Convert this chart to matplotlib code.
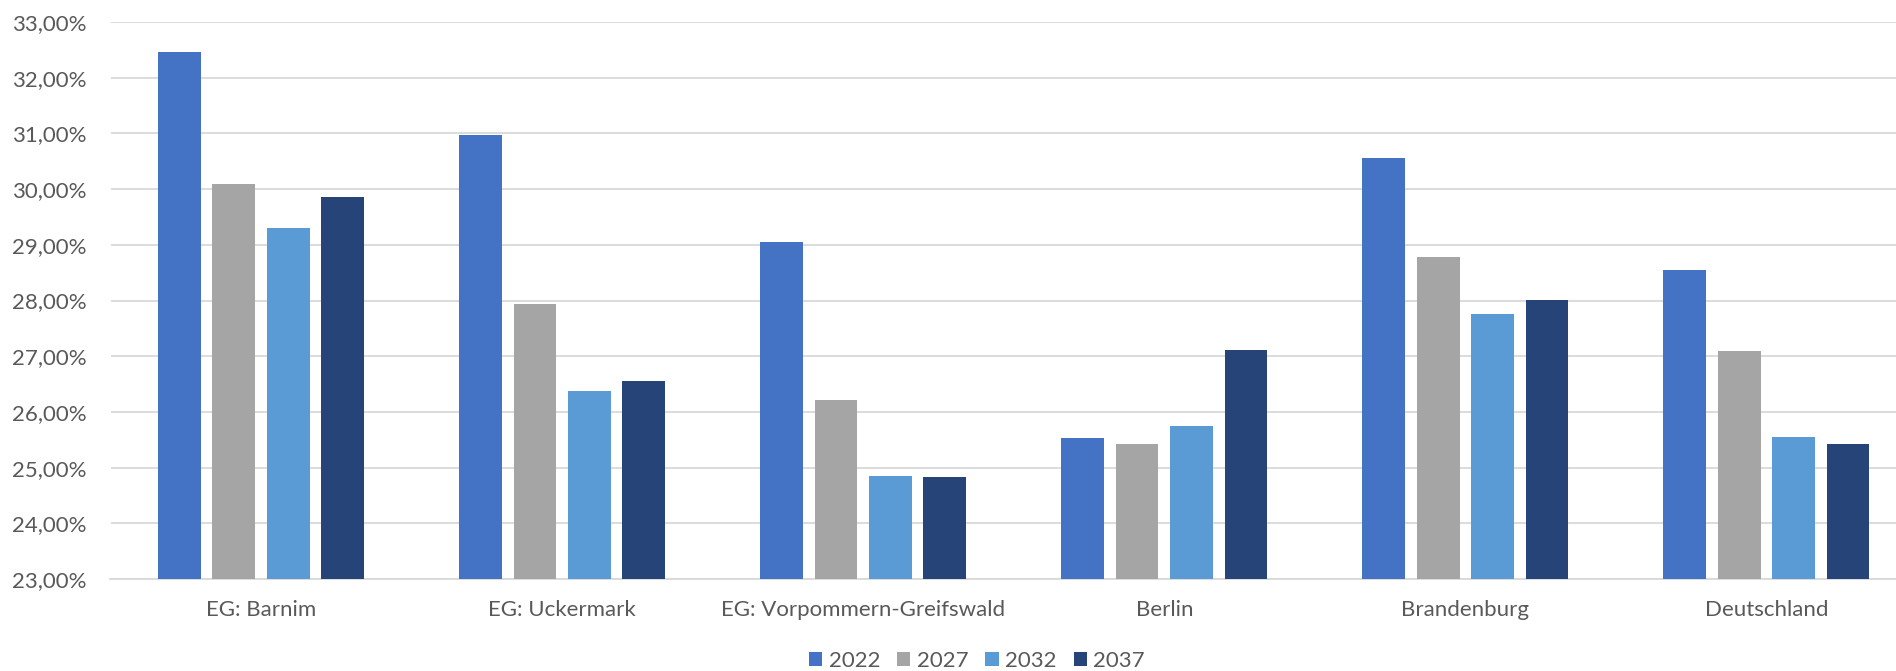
import matplotlib
matplotlib.use("Agg")
import matplotlib.pyplot as plt
from matplotlib.patches import Patch
from matplotlib.ticker import FuncFormatter, MultipleLocator
import numpy as np

categories = ["EG: Barnim", "EG: Uckermark", "EG: Vorpommern-Greifswald",
              "Berlin", "Brandenburg", "Deutschland"]
years = ["2022", "2027", "2032", "2037"]
v2022 = [32.47, 30.97, 29.05, 25.53, 30.56, 28.54]
v2027 = [30.10, 27.94, 26.21, 25.43, 28.78, 27.10]
v2032 = [29.31, 26.38, 24.85, 25.75, 27.75, 25.55]
v2037 = [29.85, 26.55, 24.84, 27.12, 28.01, 25.43]
series = [v2022, v2027, v2032, v2037]
colors = ["#4472C4", "#A5A5A5", "#5B9BD5", "#264478"]

plt.rcParams['font.family'] = ['Lato', 'DejaVu Sans']
text_color = "#595959"

W, H = 1896, 671
fig = plt.figure(figsize=(W / 100, H / 100), dpi=100)
left, right = 110.5 / W, 1917 / W
top, bottom = 1 - 22 / H, 1 - 579 / H
ax = fig.add_axes([left, bottom, right - left, top - bottom])

x = np.arange(len(categories))
pitch = 0.1807
width = 0.142
for i, (vals, c) in enumerate(zip(series, colors)):
    ax.bar(x + (i - 1.5) * pitch, np.array(vals) - 23, bottom=23, width=width,
           color=c, label=years[i], zorder=3)

ax.set_xlim(-0.5, len(categories) - 0.5)
ax.set_ylim(23, 33)
ax.yaxis.set_major_locator(MultipleLocator(1))
ax.yaxis.set_major_formatter(FuncFormatter(lambda v, p: f"{v:.2f}".replace('.', ',') + "%"))
ax.grid(axis='y', color="#D9D9D9", linewidth=1.3, zorder=0)
ax.set_axisbelow(True)
for s in ['top', 'right', 'left']:
    ax.spines[s].set_visible(False)
ax.spines['bottom'].set_color("#D9D9D9")
ax.spines['bottom'].set_linewidth(1.3)
ax.set_xticks(x)
ax.set_xticklabels(categories)
ax.tick_params(axis='both', length=0, labelsize=16, labelcolor=text_color)
ax.tick_params(axis='y', pad=17)
ax.tick_params(axis='x', pad=15)

handles = [Patch(facecolor=c, edgecolor='none', label=y) for c, y in zip(colors, years)]
fig.legend(handles=handles, loc='center', bbox_to_anchor=(977 / W, 1 - 661 / H), ncol=4,
           frameon=False, fontsize=16, labelcolor=text_color,
           handlelength=0.6, handleheight=0.6, handletextpad=0.3, columnspacing=0.75,
           borderpad=0, borderaxespad=0)

fig.savefig("out.png", dpi=100)
